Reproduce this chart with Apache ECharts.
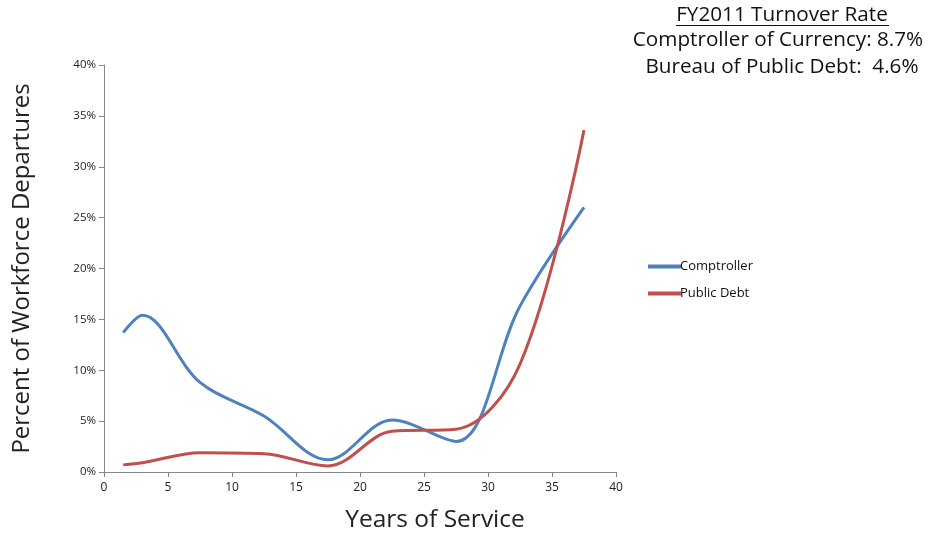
<!DOCTYPE html>
<html>
<head>
<meta charset="utf-8">
<script src="https://cdn.jsdelivr.net/npm/echarts@6/dist/echarts.min.js"></script>
<style>html,body{margin:0;padding:0;background:#fff;}#c{width:933px;height:536px;}</style>
</head>
<body>
<div id="c"></div>
<script>
const years = [1.5, 3, 7.5, 12.5, 17.5, 22.5, 27.5, 32.5, 37.5];
const comptroller = [13.7, 15.4, 8.8, 5.5, 1.2, 5.1, 3.0, 16.3, 26.0];
const publicDebt = [0.7, 0.9, 1.9, 1.8, 0.6, 4.0, 4.2, 10.6, 33.6];
const seriesNames = ['Comptroller', 'Public Debt'];
const titleLines = ['FY2011 Turnover Rate', 'Comptroller of Currency: 8.7%', 'Bureau of Public Debt:  4.6%'];

const font = '"Open Sans", sans-serif';
const chart = echarts.init(document.getElementById('c'));
chart.setOption({
  animation: false,
  textStyle: { fontFamily: font },
  grid: { left: 104, right: 317, top: 65, bottom: 64, containLabel: false, outerBoundsMode: 'none' },
  legend: {
    orient: 'vertical', left: 643, top: 255, itemWidth: 33, itemHeight: 4, itemGap: 14,
    icon: 'rect',
    textStyle: { fontSize: 13, color: '#111', fontFamily: font, padding: [0,0,0,-6] },
    data: seriesNames
  },
  xAxis: {
    type: 'value', min: 0, max: 40, interval: 5,
    name: 'Years of Service', nameLocation: 'middle', nameGap: 36,
    nameTextStyle: { fontSize: 24.5, color: '#222', fontFamily: font, padding: [0, 0, 0, 150] },
    axisLine: { lineStyle: { color: '#868686' } },
    axisTick: { show: true, length: 5, lineStyle: { color: '#868686' } },
    axisLabel: { fontSize: 12, color: '#222', margin: 10 },
    splitLine: { show: false }
  },
  yAxis: {
    type: 'value', min: 0, max: 40, interval: 5,
    name: 'Percent of Workforce Departures', nameLocation: 'middle', nameGap: 70,
    nameTextStyle: { fontSize: 24, color: '#222', fontFamily: font },
    axisLine: { show: true, lineStyle: { color: '#868686' } },
    axisTick: { show: true, length: 5, lineStyle: { color: '#868686' } },
    axisLabel: { fontSize: 11.5, color: '#222', margin: 8, formatter: v => v + '%' },
    splitLine: { show: false }
  },
  series: [
    { name: seriesNames[0], type: 'line', smooth: 0.35, showSymbol: false,
      color: '#4F81BD', lineStyle: { width: 3, color: '#4F81BD' },
      data: years.map((x, i) => [x, comptroller[i]]) },
    { name: seriesNames[1], type: 'line', smooth: 0.35, showSymbol: false,
      color: '#C0504D', lineStyle: { width: 3, color: '#C0504D' },
      data: years.map((x, i) => [x, publicDebt[i]]) }
  ],
  graphic: [
    { type: 'text', style: { text: titleLines[0], x: 782, y: 15.5, align: 'center', verticalAlign: 'middle', fontSize: 20.7, fill: '#111', fontFamily: font } },
    { type: 'line', shape: { x1: 676, y1: 25.5, x2: 889, y2: 25.5 }, style: { stroke: '#111', lineWidth: 1 } },
    { type: 'text', style: { text: titleLines[1], x: 778, y: 40.5, align: 'center', verticalAlign: 'middle', fontSize: 20.7, fill: '#111', fontFamily: font } },
    { type: 'text', style: { text: titleLines[2], x: 782, y: 67, align: 'center', verticalAlign: 'middle', fontSize: 20.7, fill: '#111', fontFamily: font } }
  ]
});
</script>
</body>
</html>
